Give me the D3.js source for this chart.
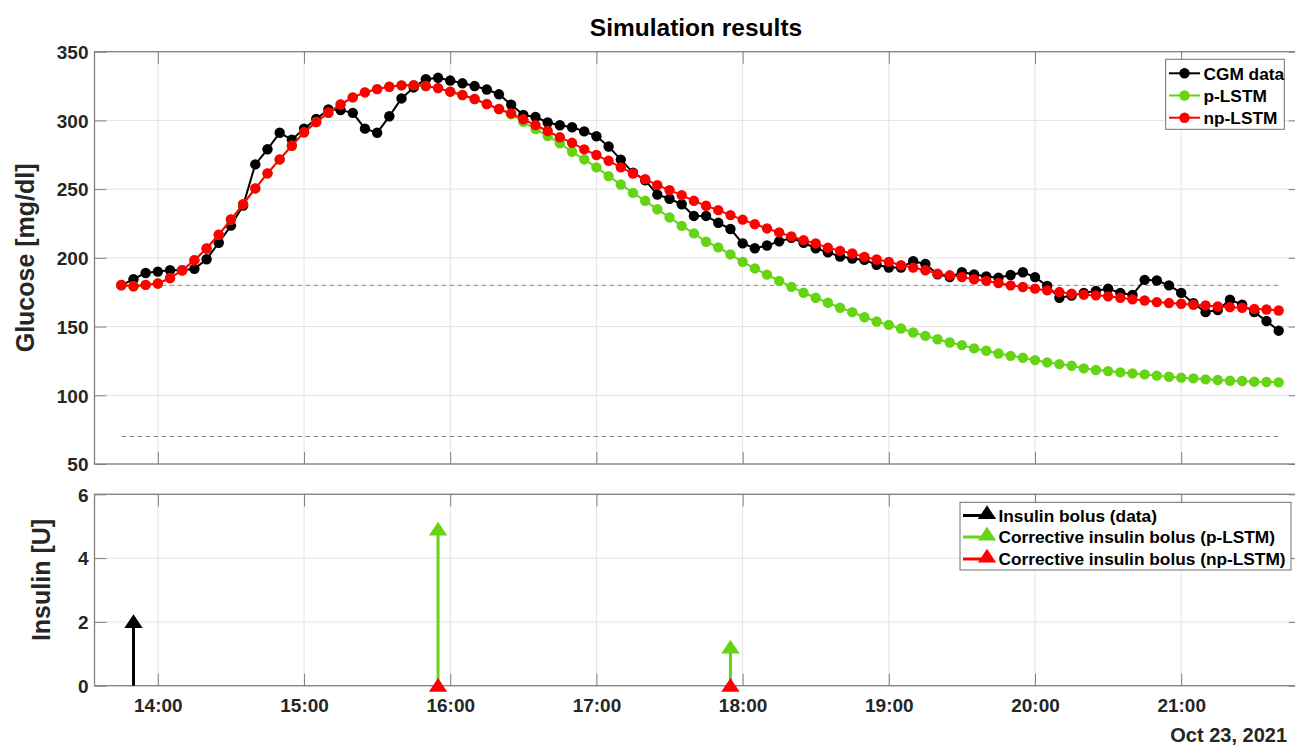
<!DOCTYPE html>
<html>
<head>
<meta charset="utf-8">
<script src="https://cdn.jsdelivr.net/npm/d3@7"></script>
<style>
  html, body { margin: 0; padding: 0; background: #fff; }
  svg { display: block; font-family: "Liberation Sans", Arial, sans-serif; }
  .tick text { font-weight: bold; fill: #262626; }
</style>
</head>
<body>
<svg id="chart" width="1295" height="747"></svg>
<script>
// ---------------- DATA ----------------
const times = [
 "13:45","13:50","13:55","14:00","14:05","14:10","14:15","14:20","14:25","14:30","14:35","14:40",
 "14:45","14:50","14:55","15:00","15:05","15:10","15:15","15:20","15:25","15:30","15:35","15:40",
 "15:45","15:50","15:55","16:00","16:05","16:10","16:15","16:20","16:25","16:30","16:35","16:40",
 "16:45","16:50","16:55","17:00","17:05","17:10","17:15","17:20","17:25","17:30","17:35","17:40",
 "17:45","17:50","17:55","18:00","18:05","18:10","18:15","18:20","18:25","18:30","18:35","18:40",
 "18:45","18:50","18:55","19:00","19:05","19:10","19:15","19:20","19:25","19:30","19:35","19:40",
 "19:45","19:50","19:55","20:00","20:05","20:10","20:15","20:20","20:25","20:30","20:35","20:40",
 "20:45","20:50","20:55","21:00","21:05","21:10","21:15","21:20","21:25","21:30","21:35","21:40"
];
const cgmData = [
 180,184.5,189,190,191,191,192,199,211,223.5,238,268,
 279,291,286,294,301,308,307.5,305.5,294,291,303,316,
 324,330,331,329,327,325,322.5,319,311.5,304,302.5,298.5,
 296.5,295,292,288.5,281,271.5,262,256.5,246,243,239,230.5,
 230.5,225.5,221,210.5,207,209,212,214.5,211,207,204,201,
 199.5,198.5,195,193,193,197.5,195.5,188,186,189.5,188,186.5,
 185.5,187.5,189.5,186,179.5,171,172.5,174.5,176,177.5,174.5,173,
 184,183.5,180,174.5,167,160.5,162,169.5,166,160.5,154,147
];
const pLSTM = [
 180.3,179.3,180.3,181.3,185.2,191,198.3,206.8,216.8,227.9,239.1,250.5,
 261.5,271.6,281.6,291.3,298.8,305.6,311.7,316.8,320.4,322.8,324.5,325.5,
 325.7,325,323.5,320.9,318.5,315.6,311.9,308.3,304.4,299,293.7,288.6,
 283.3,277.2,271.6,265.8,259.5,253.4,247.3,241.5,235.4,229.4,223.3,217.8,
 211.7,207.6,202.5,197.1,192.3,187.8,183.2,178.9,174.6,171,167.3,163.7,
 160.5,156.8,153.7,151.2,148.6,145.7,143.2,140.8,138.4,136.5,134.1,132.4,
 130.4,128.7,127.3,125.6,123.9,122.7,121.5,119.6,118.4,117.6,116.7,115.9,
 115.2,114.3,113.5,112.8,112.3,111.6,111.1,110.6,110.4,109.9,109.7,109.4
];
const npLSTM = [
 180.3,179.3,180.3,181.3,185.2,191,198.3,206.8,216.8,227.9,239.1,250.5,
 261.5,271.6,281.6,291.3,298.8,305.6,311.7,316.8,320.4,322.8,324.5,325.5,
 325.7,325,323.5,320.9,318.5,315.6,311.9,308.3,305.1,300.8,296.6,292.3,
 287.7,283.7,278.9,274.8,270.6,265.8,261.4,257.3,252.9,249.3,245.6,241.5,
 237.9,234.7,231.1,227.8,224.5,221.4,218.5,215.6,212.9,210.5,207.3,205.1,
 203.2,200.7,198.8,197.1,194.6,192.9,191,188.5,187.3,186.1,184.4,183.2,
 181.7,180,178.8,177.6,176.3,175.1,173.9,173.2,172.7,172,171,169.8,
 169,167.8,167.1,166.6,165.9,165.4,164.6,164.1,163.7,162.9,162.4,161.7
];
const thresholds = [70, 180];
const thresholdSpan = ["13:45", "21:40"];

const bolusDataTimes = ["13:50"];
const bolusDataValues = [2];
const bolusPTimes = ["15:55", "17:55"];
const bolusPValues = [4.9, 1.2];
const bolusNpTimes = ["15:55", "17:55"];
const bolusNpValues = [0, 0];

const hourTicks = ["14:00","15:00","16:00","17:00","18:00","19:00","20:00","21:00"];
const glucoseTicks = [50,100,150,200,250,300,350];
const insulinTicks = [0,2,4,6];
const xDomain = ["13:34", "21:49"];

const topLegend = ["CGM data", "p-LSTM", "np-LSTM"];
const bottomLegend = ["Insulin bolus (data)", "Corrective insulin bolus (p-LSTM)", "Corrective insulin bolus (np-LSTM)"];
const colors = { cgm: "#000000", p: "#64D413", np: "#FF0000" };

// ---------------- HELPERS ----------------
const parseT = s => { const [h, m] = s.split(":").map(Number); return new Date(2021, 9, 23, h, m); };

const svg = d3.select("#chart");
const L = 94.5, R = 1300.6;
const topY0 = 51.7, topY1 = 464;
const botY0 = 494.3, botY1 = 685.7;

const x = d3.scaleTime().domain(xDomain.map(parseT)).range([L, R]);
const yG = d3.scaleLinear().domain([50, 350]).range([topY1, topY0]);
const yI = d3.scaleLinear().domain([0, 6]).range([botY1, botY0]);

const axisColor = "#808080";
const gridColor = "#e3e3e3";
const tickFont = 19;

function drawPanel(yScale, yTicks, y0, y1) {
  const g = svg.append("g");
  g.append("g").selectAll("line").data(hourTicks).join("line")
    .attr("x1", d => x(parseT(d))).attr("x2", d => x(parseT(d)))
    .attr("y1", y0).attr("y2", y1)
    .attr("stroke", gridColor).attr("stroke-width", 1);
  g.append("g").selectAll("line").data(yTicks).join("line")
    .attr("x1", L).attr("x2", R)
    .attr("y1", d => yScale(d)).attr("y2", d => yScale(d))
    .attr("stroke", gridColor).attr("stroke-width", 1);
  return g;
}

function drawAxes(yScale, yTicks, y0, y1, showXLabels) {
  const g = svg.append("g");
  const ax = g.append("g").attr("transform", `translate(${L},0)`)
    .call(d3.axisLeft(yScale).tickValues(yTicks).tickSizeInner(-12).tickSizeOuter(0).tickPadding(6)
      .tickFormat(d3.format("d")));
  ax.select(".domain").remove();
  ax.selectAll(".tick line").attr("stroke", axisColor);
  ax.selectAll(".tick text").attr("font-size", tickFont).attr("dy", "0.36em");
  const axr = g.append("g").attr("transform", `translate(${R},0)`)
    .call(d3.axisRight(yScale).tickValues(yTicks).tickSizeInner(-12).tickSizeOuter(0).tickFormat(""));
  axr.select(".domain").remove();
  axr.selectAll(".tick line").attr("stroke", axisColor);
  const axb = g.append("g").attr("transform", `translate(0,${y1})`)
    .call(d3.axisBottom(x).tickValues(hourTicks.map(parseT)).tickSizeInner(-12).tickSizeOuter(0)
      .tickPadding(13).tickFormat(showXLabels ? d3.timeFormat("%H:%M") : ""));
  axb.select(".domain").remove();
  axb.selectAll(".tick line").attr("stroke", axisColor);
  axb.selectAll(".tick text").attr("font-size", tickFont);
  const axt = g.append("g").attr("transform", `translate(0,${y0})`)
    .call(d3.axisTop(x).tickValues(hourTicks.map(parseT)).tickSizeInner(-12).tickSizeOuter(0).tickFormat(""));
  axt.select(".domain").remove();
  axt.selectAll(".tick line").attr("stroke", axisColor);
  g.append("rect").attr("x", L).attr("y", y0).attr("width", R - L).attr("height", y1 - y0)
    .attr("fill", "none").attr("stroke", axisColor).attr("stroke-width", 1.3);
}

// ---------------- TOP PANEL ----------------
drawPanel(yG, glucoseTicks, topY0, topY1);
drawAxes(yG, glucoseTicks, topY0, topY1, false);

svg.append("g").selectAll("line").data(thresholds).join("line")
  .attr("x1", x(parseT(thresholdSpan[0]))).attr("x2", x(parseT(thresholdSpan[1])))
  .attr("y1", d => yG(d)).attr("y2", d => yG(d))
  .attr("stroke", "#8a8a8a").attr("stroke-width", 1).attr("stroke-dasharray", "5,3");

const series = [
  { vals: cgmData, color: colors.cgm },
  { vals: pLSTM, color: colors.p },
  { vals: npLSTM, color: colors.np }
];
const lineGen = d3.line().x((d, i) => x(parseT(times[i]))).y(d => yG(d));
series.forEach(s => {
  const g = svg.append("g");
  g.append("path").datum(s.vals).attr("d", lineGen)
    .attr("fill", "none").attr("stroke", s.color).attr("stroke-width", 2).attr("stroke-linejoin", "round");
  g.selectAll("circle").data(s.vals).join("circle")
    .attr("cx", (d, i) => x(parseT(times[i]))).attr("cy", d => yG(d))
    .attr("r", 5.2).attr("fill", s.color);
});

// ---------------- BOTTOM PANEL ----------------
drawPanel(yI, insulinTicks, botY0, botY1);
drawAxes(yI, insulinTicks, botY0, botY1, true);

const tri = d3.symbol().type(d3.symbolTriangle).size(110);
function drawStems(ts, vs, color) {
  const g = svg.append("g");
  ts.forEach((t, i) => {
    const xx = x(parseT(t));
    g.append("line").attr("x1", xx).attr("x2", xx).attr("y1", yI(0)).attr("y2", yI(vs[i]))
      .attr("stroke", color).attr("stroke-width", 3);
  });
  ts.forEach((t, i) => {
    const xx = x(parseT(t));
    g.append("path").attr("d", tri).attr("transform", `translate(${xx},${yI(vs[i]) + 1.5}) scale(1.15,1)`)
      .attr("fill", color);
  });
}
drawStems(bolusDataTimes, bolusDataValues, colors.cgm);
drawStems(bolusPTimes, bolusPValues, colors.p);
drawStems(bolusNpTimes, bolusNpValues, colors.np);

// ---------------- LABELS ----------------
svg.append("text").attr("x", 696).attr("y", 36).attr("text-anchor", "middle")
  .attr("font-size", 24.5).attr("font-weight", "bold").attr("fill", "#000").text("Simulation results");

svg.append("text").attr("transform", `translate(33.5,${(topY0 + topY1) / 2}) rotate(-90)`)
  .attr("text-anchor", "middle").attr("font-size", 25).attr("font-weight", "bold").attr("fill", "#262626")
  .text("Glucose [mg/dl]");
svg.append("text").attr("transform", `translate(49.5,${(botY0 + botY1) / 2 - 10}) rotate(-90)`)
  .attr("text-anchor", "middle").attr("font-size", 25).attr("font-weight", "bold").attr("fill", "#262626")
  .text("Insulin [U]");

svg.append("text").attr("x", 1287).attr("y", 742).attr("text-anchor", "end")
  .attr("font-size", 20).attr("font-weight", "bold").attr("fill", "#262626").text("Oct 23, 2021");

// ---------------- LEGENDS ----------------
const lgFont = 17.3;
{
  const g = svg.append("g");
  g.append("rect").attr("x", 1165.7).attr("y", 59.3).attr("width", 118.6).attr("height", 70)
    .attr("fill", "#fff").attr("stroke", "#6e6e6e").attr("stroke-width", 1);
  const ys = [73.3, 95.5, 117.7];
  const cols = [colors.cgm, colors.p, colors.np];
  topLegend.forEach((t, i) => {
    g.append("line").attr("x1", 1169).attr("x2", 1200).attr("y1", ys[i]).attr("y2", ys[i])
      .attr("stroke", cols[i]).attr("stroke-width", 2);
    g.append("circle").attr("cx", 1184.5).attr("cy", ys[i]).attr("r", 5.2).attr("fill", cols[i]);
    g.append("text").attr("x", 1203.5).attr("y", ys[i]).attr("dy", "0.36em")
      .attr("font-size", lgFont).attr("font-weight", "bold").attr("fill", "#000").text(t);
  });
}
{
  const g = svg.append("g");
  g.append("rect").attr("x", 960).attr("y", 502.3).attr("width", 331).attr("height", 67.7)
    .attr("fill", "#fff").attr("stroke", "#6e6e6e").attr("stroke-width", 1);
  const ys = [515.5, 537, 559];
  const cols = [colors.cgm, colors.p, colors.np];
  bottomLegend.forEach((t, i) => {
    g.append("line").attr("x1", 963).attr("x2", 990).attr("y1", ys[i]).attr("y2", ys[i])
      .attr("stroke", cols[i]).attr("stroke-width", 3);
    g.append("path").attr("d", tri).attr("transform", `translate(987,${ys[i] - 1}) scale(1.15,1)`).attr("fill", cols[i]);
    g.append("text").attr("x", 998.5).attr("y", ys[i]).attr("dy", "0.36em")
      .attr("font-size", lgFont).attr("font-weight", "bold").attr("fill", "#000").text(t);
  });
}
</script>
</body>
</html>
